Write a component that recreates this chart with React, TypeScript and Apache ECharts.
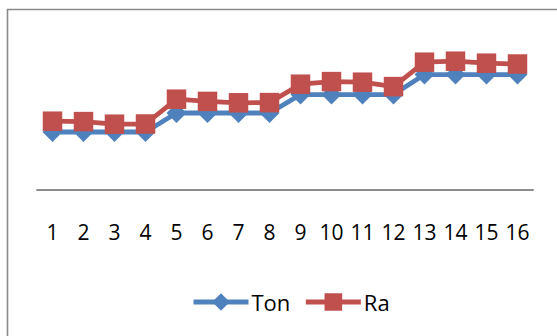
import React, { useEffect, useRef } from "react";
import * as echarts from "echarts";

// Sample index along the x axis
const categories = ["1", "2", "3", "4", "5", "6", "7", "8", "9", "10", "11", "12", "13", "14", "15", "16"];

// Series values
const tonValues = [2.9, 2.9, 2.9, 2.9, 3.85, 3.85, 3.85, 3.85, 4.77, 4.77, 4.77, 4.77, 5.77, 5.77, 5.77, 5.77];
const raValues = [3.44, 3.42, 3.29, 3.3, 4.54, 4.43, 4.36, 4.37, 5.29, 5.42, 5.39, 5.17, 6.39, 6.44, 6.34, 6.3];

const BLUE = "#4F81BD";
const RED = "#C0504D";
const FONT = "'Open Sans', 'Noto Sans', sans-serif";

export default function App() {
  const ref = useRef<HTMLDivElement>(null);

  useEffect(() => {
    if (!ref.current) return;
    const chart = echarts.init(ref.current, undefined, { renderer: "svg" });
    chart.setOption({
      animation: false,
      backgroundColor: "#ffffff",
      grid: { left: 37, right: 24, top: 30, bottom: 146, containLabel: false },
      xAxis: {
        type: "category",
        data: categories,
        boundaryGap: true,
        axisLine: { show: true, lineStyle: { color: "#8c8c8c", width: 2 } },
        axisTick: { show: false },
        axisLabel: {
          color: "#000000",
          fontFamily: FONT,
          fontSize: 21,
          margin: 31,
          interval: 0,
        },
        splitLine: { show: false },
      },
      yAxis: {
        type: "value",
        min: 0,
        max: 8,
        show: false,
        splitLine: { show: false },
      },
      legend: {
        left: 186,
        top: 286,
        itemWidth: 55,
        itemHeight: 22,
        itemGap: 13,
        lineStyle: { width: 5 },
        textStyle: { color: "#000000", fontFamily: FONT, fontSize: 22, padding: [0, 0, 0, -2] },
        data: ["Ton", "Ra"],
      },
      graphic: [
        {
          type: "rect",
          shape: { x: 7.5, y: 9.5, width: 620, height: 400 },
          style: { fill: "none", stroke: "#8a8a8a", lineWidth: 1.6 },
          silent: true,
        },
      ],
      series: [
        {
          name: "Ton",
          type: "line",
          data: tonValues,
          symbol: "diamond",
          symbolSize: [20, 20],
          lineStyle: { color: BLUE, width: 4.8 },
          itemStyle: { color: BLUE },
          z: 2,
        },
        {
          name: "Ra",
          type: "line",
          data: raValues,
          symbol: "rect",
          symbolSize: [19.5, 19.5],
          lineStyle: { color: RED, width: 4.8 },
          itemStyle: { color: RED },
          z: 3,
        },
      ],
    });
    return () => chart.dispose();
  }, []);

  return (
    <div
      ref={ref}
      style={{ position: "fixed", left: 0, top: 0, width: 557, height: 336 }}
    />
  );
}
